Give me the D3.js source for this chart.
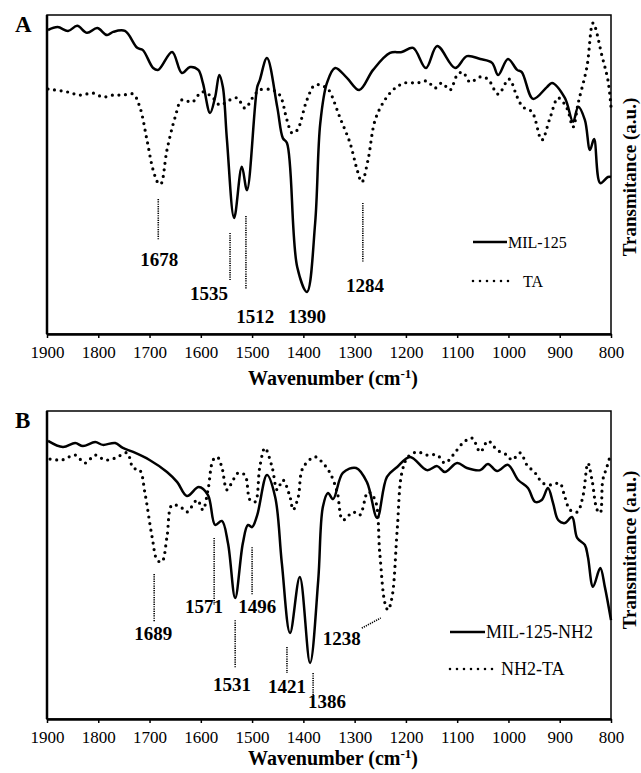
<!DOCTYPE html>
<html>
<head>
<meta charset="utf-8">
<script src="https://cdn.jsdelivr.net/npm/d3@7"></script>
<style>
  body { margin: 0; background: #fff; }
  svg text { font-family: "Liberation Serif", "Times New Roman", serif; fill: #000; }
  .tick text { font-size: 17px; }
  .peak { font-size: 19px; font-weight: bold; }
  .title { font-size: 20px; font-weight: bold; }
  .legend { font-size: 16px; }
</style>
</head>
<body>
<div class="svg-container"></div>
<script>
var width = 641;
var height = 773;

// x ticks (wavenumber, cm-1)
var xTicks = [1900, 1800, 1700, 1600, 1500, 1400, 1300, 1200, 1100, 1000, 900, 800];

// panel A : MIL-125 (solid) [wavenumber, transmittance a.u.]
var mil125 = [
  [1898, 95.3], [1879, 96.2], [1859, 95.0], [1841, 96.6], [1822, 94.4], [1802, 95.9],
  [1783, 93.7], [1771, 94.7], [1748, 95.0], [1724, 89.7], [1713, 89.0], [1693, 83.4],
  [1683, 82.8], [1656, 88.4], [1637, 81.8], [1621, 83.7], [1605, 82.8], [1596, 78.7],
  [1582, 69.3], [1572, 74.3], [1564, 81.2], [1557, 77.4], [1549, 60.8], [1535, 36.4],
  [1520, 52.4], [1510, 45.1], [1490, 77.4], [1485, 79.6], [1471, 86.5], [1451, 71.2],
  [1440, 61.4], [1432, 59.9], [1412, 21.0], [1393, 13.2], [1377, 34.8], [1367, 66.1],
  [1354, 78.7], [1338, 83.4], [1315, 80.3], [1291, 76.5], [1264, 82.8], [1231, 88.1],
  [1208, 88.4], [1186, 89.7], [1161, 83.4], [1139, 90.3], [1104, 83.4], [1081, 87.1],
  [1055, 86.2], [1032, 85.0], [1020, 81.2], [1001, 86.2], [983, 82.8], [974, 82.1],
  [952, 73.7], [925, 77.4], [915, 78.7], [890, 74.0], [874, 66.5], [864, 71.2],
  [851, 67.1], [841, 57.7], [833, 61.1], [821, 47.3], [806, 49.2], [800, 49.2]
];

// panel A : TA (dotted)
var ta = [
  [1898, 76.8], [1861, 75.9], [1836, 74.9], [1810, 75.5], [1791, 74.3], [1771, 74.9],
  [1752, 74.9], [1732, 75.2], [1719, 71.2], [1705, 60.8], [1693, 51.4], [1683, 47.3],
  [1678, 47.0], [1666, 57.7], [1650, 68.0], [1637, 73.4], [1617, 72.7], [1598, 75.9],
  [1578, 74.3], [1563, 71.8], [1543, 73.4], [1529, 74.0], [1514, 70.8], [1498, 74.3],
  [1485, 76.5], [1461, 76.5], [1446, 74.9], [1432, 67.1], [1422, 63.0], [1412, 63.9],
  [1393, 73.4], [1377, 78.1], [1354, 77.1], [1348, 75.9], [1329, 68.0], [1309, 59.9],
  [1295, 51.4], [1286, 47.6], [1274, 54.5], [1260, 67.1], [1241, 73.4], [1221, 77.1],
  [1202, 78.7], [1178, 78.7], [1159, 79.3], [1143, 77.1], [1130, 78.7], [1114, 76.5],
  [1100, 81.2], [1089, 82.1], [1075, 79.0], [1055, 80.6], [1040, 79.9], [1020, 75.2],
  [999, 79.9], [983, 74.3], [972, 71.2], [954, 69.6], [935, 60.8], [919, 67.7],
  [903, 74.0], [886, 70.8], [874, 64.9], [864, 72.4], [847, 83.7], [835, 97.5],
  [817, 86.8], [806, 79.6], [800, 71.2]
];

// panel B : MIL-125-NH2 (solid)
var mil125nh2 = [
  [1898, 90.3], [1869, 88.3], [1845, 89.6], [1830, 88.6], [1806, 89.9], [1791, 89.0],
  [1767, 89.6], [1752, 88.0], [1732, 86.7], [1700, 84.1], [1666, 80.2], [1646, 76.9],
  [1627, 72.4], [1604, 75.3], [1586, 72.7], [1572, 63.0], [1559, 64.3], [1547, 57.1],
  [1533, 39.3], [1518, 57.1], [1508, 63.0], [1500, 62.3], [1490, 66.2], [1471, 79.2],
  [1455, 72.1], [1442, 50.6], [1426, 27.9], [1407, 46.1], [1387, 18.2], [1371, 45.1],
  [1362, 68.8], [1352, 73.4], [1342, 71.4], [1323, 79.9], [1297, 81.5], [1276, 76.9],
  [1256, 65.3], [1237, 78.6], [1217, 81.8], [1192, 85.1], [1159, 80.8], [1139, 82.1],
  [1124, 80.2], [1100, 83.1], [1081, 81.5], [1055, 80.8], [1040, 82.8], [1022, 80.5],
  [1001, 82.5], [981, 77.6], [962, 75.0], [948, 70.5], [935, 71.1], [923, 75.0],
  [913, 70.1], [903, 64.6], [890, 63.6], [876, 65.6], [866, 58.8], [851, 56.5],
  [845, 52.6], [835, 42.9], [821, 49.0], [812, 42.9], [800, 32.1]
];

// panel B : NH2-TA (dotted)
var nh2ta = [
  [1894, 84.4], [1871, 84.1], [1845, 85.7], [1826, 83.1], [1806, 85.7], [1787, 84.1],
  [1767, 84.7], [1744, 86.4], [1732, 81.5], [1719, 80.8], [1709, 73.4], [1695, 59.1],
  [1685, 51.6], [1676, 51.0], [1666, 59.1], [1656, 69.5], [1637, 68.5], [1627, 67.2],
  [1607, 71.1], [1596, 67.9], [1586, 74.4], [1576, 84.1], [1568, 85.1], [1559, 81.8],
  [1549, 74.4], [1537, 77.6], [1527, 79.9], [1514, 79.2], [1504, 71.1], [1494, 70.5],
  [1485, 81.8], [1475, 88.0], [1461, 81.8], [1451, 74.4], [1440, 77.6], [1426, 72.1],
  [1420, 67.9], [1410, 72.1], [1401, 81.5], [1377, 85.1], [1362, 83.1], [1348, 79.9],
  [1334, 73.7], [1323, 64.6], [1303, 67.2], [1290, 66.2], [1274, 73.7], [1260, 71.1],
  [1251, 53.9], [1241, 37.7], [1235, 35.4], [1227, 39.6], [1217, 61.4], [1208, 79.9],
  [1196, 85.1], [1178, 86.7], [1159, 85.7], [1139, 85.7], [1124, 83.1], [1108, 85.7],
  [1089, 89.6], [1071, 91.2], [1055, 86.7], [1040, 90.3], [1022, 87.3], [1003, 85.7],
  [993, 84.1], [977, 86.4], [964, 82.5], [948, 79.9], [933, 76.6], [915, 76.0],
  [900, 76.6], [890, 72.1], [880, 67.9], [866, 67.2], [855, 72.1], [845, 83.1],
  [837, 77.6], [827, 67.9], [821, 66.9], [816, 77.6], [808, 81.8], [800, 86.4]
];

// peak labels: text, leader line [wn1, y1, wn2, y2] (null = none), label anchor [wn, y]
var peaksA = [
  { label: "1678", line: [1683, 42.3, 1683, 29.5], at: [1681, 21.3] },
  { label: "1535", line: [1543, 31.7, 1543, 16.6], at: [1584, 10.7] },
  { label: "1512", line: [1512, 37.0, 1512, 14.1], at: [1494, 3.4] },
  { label: "1390", line: null, at: [1393, 3.4] },
  { label: "1284", line: [1284, 41.1, 1284, 22.6], at: [1280, 13.2] }
];
var peaksB = [
  { label: "1689", line: [1691, 47.1, 1691, 31.5], at: [1693, 25.6] },
  { label: "1571", line: [1574, 58.8, 1574, 37.0], at: [1594, 34.4] },
  { label: "1496", line: [1500, 55.8, 1500, 40.3], at: [1490, 34.4] },
  { label: "1531", line: [1533, 32.1, 1533, 16.6], at: [1539, 9.1] },
  { label: "1421", line: [1432, 23.4, 1432, 14.9], at: [1432, 8.4] },
  { label: "1386", line: [1381, 14.9, 1381, 7.8], at: [1354, 3.6] },
  { label: "1238", line: [1286, 29.5, 1249, 32.8], at: [1325, 24.0] }
];

var svg = d3.select(".svg-container")
  .append("svg")
  .attr("width", width)
  .attr("height", height);

svg.append("rect").attr("width", width).attr("height", height).attr("fill", "#fff");

var left = 47, right = 611;

var scaleX = d3.scaleLinear()
  .domain([1900, 800])
  .range([left, right]);

var line = function(scaleY) {
  return d3.line()
    .x(function(d) { return scaleX(d[0]); })
    .y(function(d) { return scaleY(d[1]); })
    .curve(d3.curveCatmullRom.alpha(0.5));
};

function drawPanel(opt) {
  var scaleY = d3.scaleLinear().domain([0, 100]).range([opt.bottom, opt.top]);
  var g = svg.append("g");

  // frame
  g.append("rect")
    .attr("x", left).attr("y", opt.top)
    .attr("width", right - left).attr("height", opt.bottom - opt.top)
    .attr("fill", "none").attr("stroke", "#000").attr("stroke-width", 1.5);
  g.append("line")
    .attr("x1", left).attr("x2", left).attr("y1", opt.top).attr("y2", opt.bottom)
    .attr("stroke", "#000").attr("stroke-width", 2.5);

  // x axis
  var ax = g.append("g")
    .attr("transform", "translate(0," + opt.bottom + ")")
    .call(d3.axisBottom(scaleX).tickValues(xTicks).tickFormat(d3.format("d"))
      .tickSize(4).tickSizeOuter(0).tickPadding(8));
  ax.select(".domain").attr("stroke-width", 2.5);
  ax.selectAll(".tick line").attr("stroke-width", 1.5);
  ax.selectAll(".tick text").attr("font-family", null).attr("font-size", null);

  // curves
  g.append("path").datum(opt.solid)
    .attr("fill", "none").attr("stroke", "#000").attr("stroke-width", 2.5)
    .attr("stroke-linejoin", "round")
    .attr("d", line(scaleY));
  g.append("path").datum(opt.dotted)
    .attr("fill", "none").attr("stroke", "#000").attr("stroke-width", 3.2)
    .attr("stroke-linecap", "round").attr("stroke-dasharray", "0,6.6")
    .attr("d", line(scaleY));

  // peak labels
  opt.peaks.forEach(function(p) {
    if (p.line) {
      g.append("line")
        .attr("x1", scaleX(p.line[0])).attr("y1", scaleY(p.line[1]))
        .attr("x2", scaleX(p.line[2])).attr("y2", scaleY(p.line[3]))
        .attr("stroke", "#000").attr("stroke-width", 1.6)
        .attr("stroke-dasharray", "1.2,1.1");
    }
    g.append("text")
      .attr("class", "peak")
      .attr("x", scaleX(p.at[0])).attr("y", scaleY(p.at[1]))
      .attr("text-anchor", "middle")
      .text(p.label);
  });

  // legend
  var lg = g.append("g").attr("transform", "translate(" + opt.legX + "," + opt.legY + ")");
  lg.append("line").attr("x1", 0).attr("x2", opt.legLen).attr("y1", 0).attr("y2", 0)
    .attr("stroke", "#000").attr("stroke-width", 2.5);
  lg.append("text").attr("class", "legend").style("font-size", opt.legFont + "px")
    .attr("x", opt.legLen + 1).attr("y", 0).attr("dy", "0.35em").text(opt.names[0]);
  lg.append("line").attr("x1", 0).attr("x2", opt.legLen + 8).attr("y1", opt.legGap).attr("y2", opt.legGap)
    .attr("stroke", "#000").attr("stroke-width", 2.6)
    .attr("stroke-linecap", "round").attr("stroke-dasharray", "0,7");
  lg.append("text").attr("class", "legend").style("font-size", opt.legFont + "px")
    .attr("x", opt.legLen + 16).attr("y", opt.legGap).attr("dy", "0.35em").text(opt.names[1]);

  // axis titles
  var xt = g.append("text").attr("class", "title")
    .attr("x", 333).attr("y", opt.xTitle)
    .attr("text-anchor", "middle");
  xt.append("tspan").text("Wavenumber (cm");
  xt.append("tspan").attr("dy", -7).style("font-size", "13px").text("-1");
  xt.append("tspan").attr("dy", 7).text(")");

  g.append("text").attr("class", "title")
    .style("font-size", "19px")
    .attr("transform", "translate(629," + opt.yTitle + ") rotate(-90)")
    .attr("text-anchor", "middle").attr("dy", "0.35em")
    .text("Transmitance (a.u.)");

  g.append("text")
    .attr("x", 15).attr("y", opt.top + 17)
    .style("font-size", "23px").style("font-weight", "bold")
    .text(opt.letter);
}

drawPanel({
  top: 15, bottom: 334, solid: mil125, dotted: ta, peaks: peaksA,
  names: ["MIL-125", "TA"], legX: 473, legY: 242, legLen: 34, legGap: 39, legFont: 16,
  yTitle: 177, xTitle: 385, letter: "A"
});

drawPanel({
  top: 411, bottom: 719, solid: mil125nh2, dotted: nh2ta, peaks: peaksB,
  names: ["MIL-125-NH2", "NH2-TA"], legX: 450, legY: 632, legLen: 35, legGap: 37, legFont: 18,
  yTitle: 550, xTitle: 765, letter: "B"
});
</script>
</body>
</html>
